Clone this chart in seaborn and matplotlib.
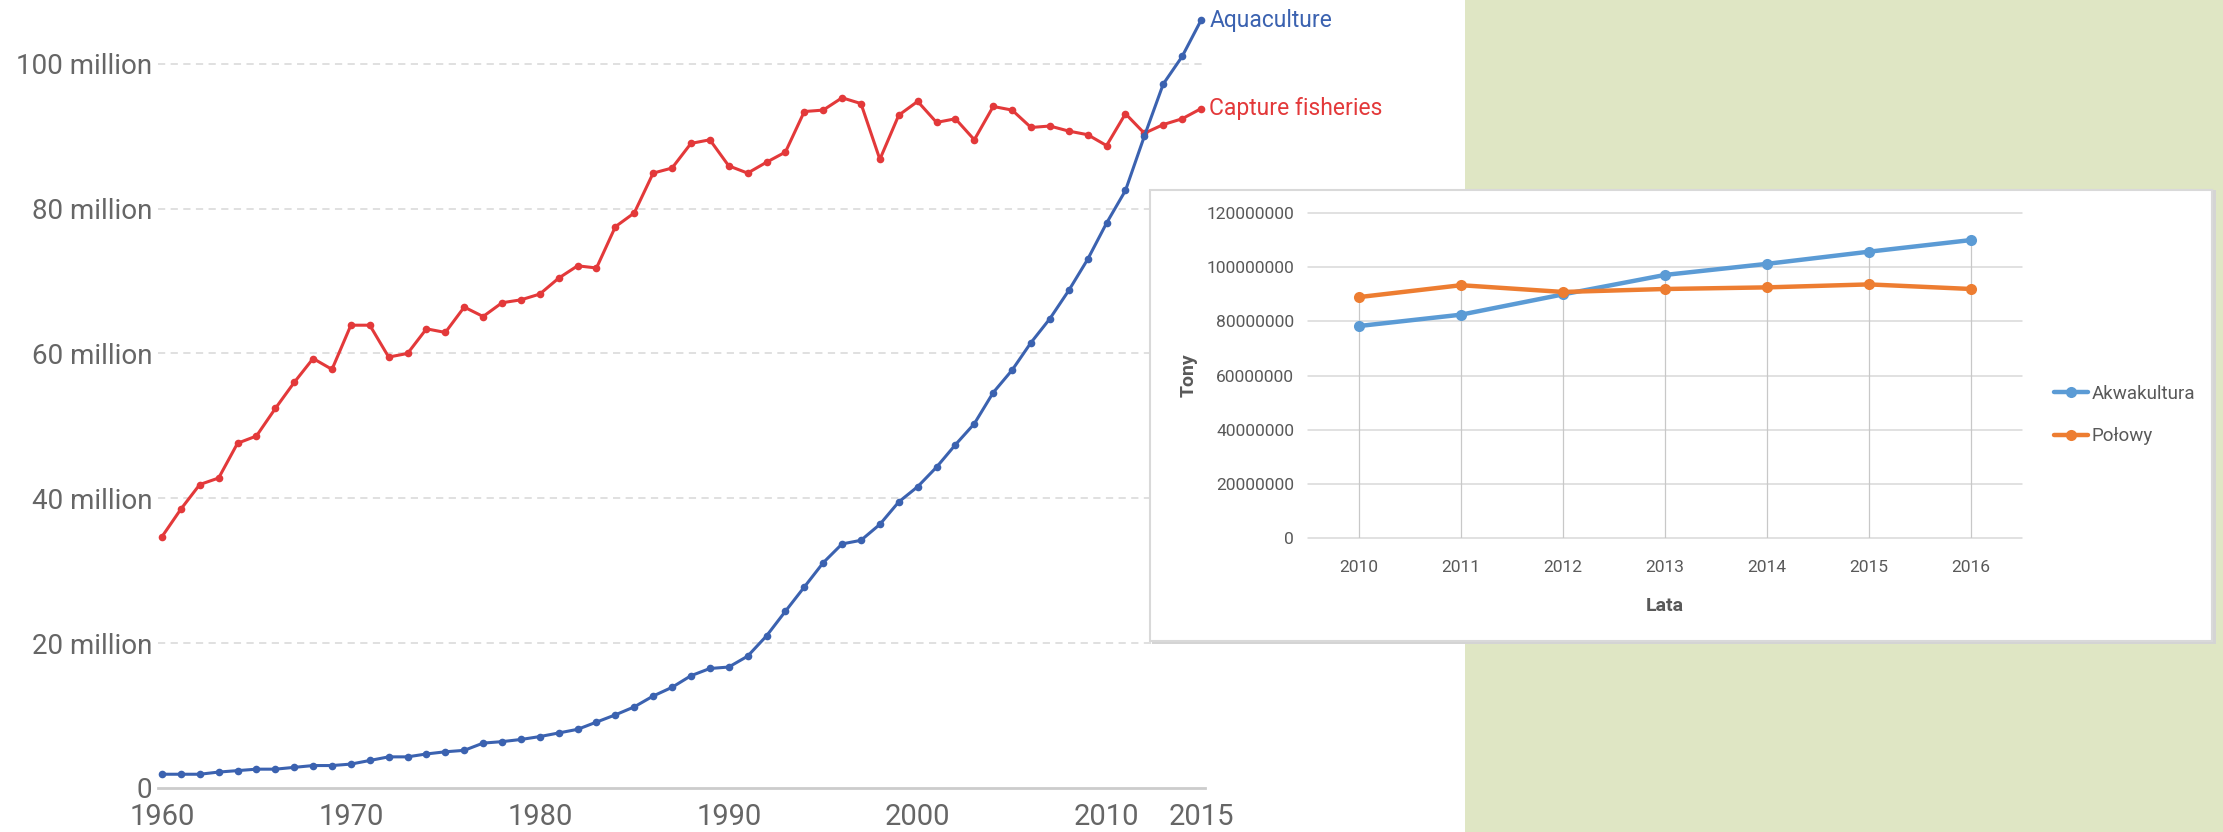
"""
Fish production: aquaculture vs capture fisheries (1960-2015),
with the 2010-2016 Polish inset chart pasted on top.
"""

import matplotlib

matplotlib.use("Agg")

import matplotlib.pyplot as plt
import pandas as pd
import seaborn as sns
from matplotlib.patches import Rectangle
from matplotlib.ticker import FuncFormatter

# main chart data, million tonnes
years = list(range(1960, 2016))
capture_mt = [
    34.7, 38.5, 41.9, 42.8, 47.6, 48.6, 52.4, 56.0, 59.3, 57.8,
    63.9, 63.9, 59.5, 60.0, 63.4, 62.9, 66.4, 65.1, 67.0, 67.4,
    68.2, 70.4, 72.1, 71.8, 77.5, 79.4, 84.9, 85.6, 89.0, 89.5,
    85.9, 84.9, 86.4, 87.8, 93.4, 93.6, 95.3, 94.5, 86.8, 92.9,
    94.8, 91.9, 92.4, 89.5, 94.1, 93.6, 91.2, 91.4, 90.7, 90.2,
    88.7, 93.1, 90.4, 91.6, 92.4, 93.8,
]
aquaculture_mt = [
    1.9, 1.9, 1.9, 2.2, 2.4, 2.6, 2.6, 2.85, 3.1, 3.1,
    3.3, 3.8, 4.3, 4.3, 4.7, 5.0, 5.2, 6.2, 6.4, 6.7,
    7.1, 7.6, 8.1, 9.1, 10.1, 11.2, 12.7, 13.9, 15.5, 16.5,
    16.7, 18.2, 21.0, 24.4, 27.75, 31.1, 33.7, 34.2, 36.4, 39.5,
    41.6, 44.3, 47.4, 50.3, 54.6, 57.7, 61.5, 64.8, 68.7, 73.0,
    78.0, 82.5, 90.0, 97.2, 101.0, 106.0,
]
main_yticks = [0, 20, 40, 60, 80, 100]
main_xticks = [1960, 1970, 1980, 1990, 2000, 2010, 2015]

# inset data, tonnes
inset_years = [2010, 2011, 2012, 2013, 2014, 2015, 2016]
akwakultura = [78.3e6, 82.5e6, 90.0e6, 97.2e6, 101.3e6, 105.8e6, 110.1e6]
polowy = [89.0e6, 93.4e6, 90.9e6, 92.0e6, 92.6e6, 93.7e6, 92.0e6]
inset_yticks = [0, 20e6, 40e6, 60e6, 80e6, 100e6, 120e6]

BLUE = "#3b62b0"
RED = "#e3393a"
GREEN_BG = "#dfe6c4"

sns.set_style("white")
plt.rcParams["font.family"] = ["Roboto", "DejaVu Sans"]

W, H = 2223, 832
fig = plt.figure(figsize=(W / 100, H / 100), dpi=100)
fig.patch.set_facecolor("white")


def px_rect(x0, y0, x1, y1):
    """pixel box (top-left origin) -> figure fraction rect"""
    return [x0 / W, 1 - y1 / H, (x1 - x0) / W, (y1 - y0) / H]


# green panel on the right
fig.patches.append(Rectangle((1465 / W, 0), (W - 1465) / W, 1, transform=fig.transFigure,
                             facecolor=GREEN_BG, edgecolor="none", zorder=0.2))

# ---- main chart ----
ax = fig.add_axes(px_rect(158, 5.8, 1205, 788))
ax.set_zorder(0)
ax.patch.set_alpha(0)

main_df = pd.DataFrame({
    "year": years * 2,
    "value": capture_mt + aquaculture_mt,
    "series": ["Capture fisheries"] * len(years) + ["Aquaculture"] * len(years),
})
sns.lineplot(data=main_df, x="year", y="value", hue="series",
             palette={"Capture fisheries": RED, "Aquaculture": BLUE},
             marker="o", markersize=5.5, markeredgewidth=0, linewidth=2.2,
             legend=False, ax=ax)
for line in ax.lines:
    line.set_clip_on(False)

ax.set_xlim(1959.79, 2015.21)
ax.set_ylim(0, 108)
ax.set_yticks(main_yticks)
ax.yaxis.set_major_formatter(FuncFormatter(lambda v, _: "0" if v == 0 else f"{v:.0f} million"))
ax.set_xticks(main_xticks)
ax.set_xlabel("")
ax.set_ylabel("")
ax.tick_params(axis="both", length=0, labelcolor="#666666")
ax.tick_params(axis="y", labelsize=20, pad=4)
ax.tick_params(axis="x", labelsize=21, pad=11)
for side in ("top", "right", "left"):
    ax.spines[side].set_visible(False)
ax.spines["bottom"].set_color("#cccccc")
ax.spines["bottom"].set_linewidth(2)
for v in main_yticks[1:]:
    ax.axhline(v, color="#dddddd", lw=1.3, ls=(0, (4, 3)), zorder=0)

ax.annotate("Aquaculture", xy=(years[-1], aquaculture_mt[-1]), xytext=(6, 0),
            textcoords="offset points", va="center", ha="left", fontsize=16.5, color=BLUE)
ax.annotate("Capture fisheries", xy=(years[-1], capture_mt[-1]), xytext=(6, 0),
            textcoords="offset points", va="center", ha="left", fontsize=16.5, color=RED)

# ---- inset box ----
fig.patches.append(Rectangle((1152 / W, 1 - 644 / H), 1064 / W, 454 / H, transform=fig.transFigure,
                             facecolor="#d4d4d4", edgecolor="none", zorder=1))
fig.patches.append(Rectangle((1150 / W, 1 - 641 / H), 1062 / W, 451 / H, transform=fig.transFigure,
                             facecolor="white", edgecolor="#d9d9d9", lw=1.5, zorder=1.1))

ax_in = fig.add_axes(px_rect(1308, 213.3, 2022, 537.7))
ax_in.set_zorder(2)
ax_in.patch.set_alpha(0)

inset_df = pd.DataFrame({
    "year": inset_years * 2,
    "value": akwakultura + polowy,
    "series": ["Akwakultura"] * len(inset_years) + ["Połowy"] * len(inset_years),
})
tops = [max(a, p) for a, p in zip(akwakultura, polowy)]
ax_in.vlines(inset_years, 0, tops, color="#c8c8c8", lw=0.9, zorder=1)
sns.lineplot(data=inset_df, x="year", y="value", hue="series",
             palette={"Akwakultura": "#5b9bd5", "Połowy": "#ed7d31"},
             marker="o", markersize=8, markeredgewidth=0, linewidth=3.2,
             ax=ax_in, zorder=3)

ax_in.set_xlim(2009.5, 2016.5)
ax_in.set_ylim(0, 120e6)
ax_in.set_yticks(inset_yticks)
ax_in.yaxis.set_major_formatter(FuncFormatter(lambda v, _: f"{v:.0f}"))
ax_in.set_xticks(inset_years)
ax_in.tick_params(axis="both", length=0, labelsize=12.5, labelcolor="#595959")
ax_in.tick_params(axis="x", pad=16)
ax_in.tick_params(axis="y", pad=10)
for side in ("top", "right", "left", "bottom"):
    ax_in.spines[side].set_visible(False)
for v in inset_yticks:
    ax_in.axhline(v, color="#d9d9d9", lw=1.1, zorder=0, clip_on=False)

ax_in.set_xlabel("Lata", fontsize=14, fontweight="bold", color="#595959", labelpad=16)
ax_in.set_ylabel("Tony", fontsize=14, fontweight="bold", color="#595959", labelpad=6)

ax_in.legend(loc="center left", bbox_to_anchor=(2045 / W, 1 - 415 / H),
             bbox_transform=fig.transFigure, frameon=False, fontsize=13.5,
             handlelength=1.8, handletextpad=0.2, labelspacing=1.3,
             labelcolor="#595959", borderpad=0)

fig.savefig("out.png", dpi=100)
plt.close(fig)
